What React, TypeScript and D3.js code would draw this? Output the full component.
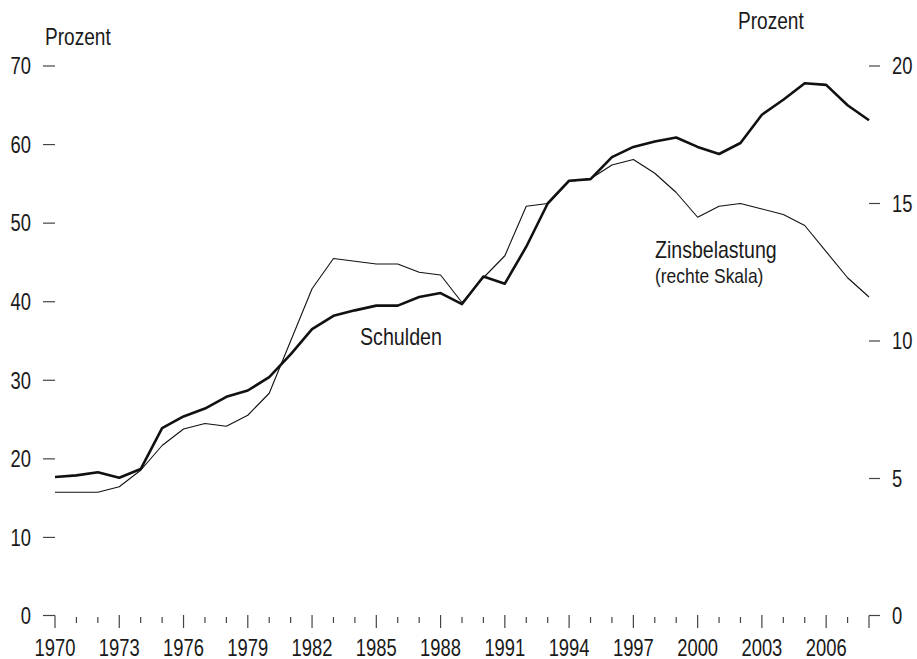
import React, { useEffect, useRef } from "react";
import * as d3 from "d3";

// years 1970..2008
const years = d3.range(1970, 2009);

// Schulden in Prozent (linke Skala)
const schulden = [
  17.7, 17.9, 18.3, 17.6, 18.7, 23.9, 25.4, 26.4, 27.9, 28.7,
  30.4, 33.3, 36.5, 38.2, 38.9, 39.5, 39.5, 40.6, 41.1, 39.7,
  43.2, 42.3, 47.0, 52.5, 55.4, 55.6, 58.4, 59.7, 60.4, 60.9,
  59.7, 58.8, 60.2, 63.8, 65.7, 67.8, 67.6, 65.0, 63.1,
];

// Zinsbelastung in Prozent (rechte Skala)
const zins = [
  4.5, 4.5, 4.5, 4.7, 5.3, 6.2, 6.8, 7.0, 6.9, 7.3,
  8.1, 10.0, 11.9, 13.0, 12.9, 12.8, 12.8, 12.5, 12.4, 11.4,
  12.3, 13.1, 14.9, 15.0, 15.8, 15.9, 16.4, 16.6, 16.1, 15.4,
  14.5, 14.9, 15.0, 14.8, 14.6, 14.2, 13.25, 12.3, 11.6,
];

const leftTicks = [0, 10, 20, 30, 40, 50, 60, 70];
const rightTicks = [0, 5, 10, 15, 20];
const labelYears = d3.range(1970, 2007, 3);

const W = 917;
const H = 659;
const FONT = "'Liberation Sans', Arial, sans-serif";

export default function App() {
  const ref = useRef<SVGSVGElement>(null);

  useEffect(() => {
    const svg = d3.select(ref.current);
    svg.selectAll("*").remove();

    const x = d3.scaleLinear().domain([1970, 2008]).range([55, 869]);
    const yL = d3.scaleLinear().domain([0, 70]).range([616, 66]);
    const yR = d3.scaleLinear().domain([0, 20]).range([616, 66]);
    const base = yL(0) - 0.5;

    const g = svg.append("g").attr("font-family", FONT).attr("fill", "#1a1a1a");

    // condensed-looking text: squeeze horizontally around the anchor point
    const label = (
      tx: number, ty: number, s: string | number,
      opts: { size?: number; anchor?: string; sx?: number; dy?: string } = {}
    ) =>
      g.append("text")
        .attr("transform", `translate(${tx},${ty}) scale(${opts.sx ?? 0.8},1)`)
        .attr("dy", opts.dy ?? null)
        .attr("text-anchor", opts.anchor ?? "start")
        .attr("font-size", opts.size ?? 23)
        .text(s);

    // left axis ticks + labels
    leftTicks.forEach((t) => {
      g.append("line")
        .attr("x1", 43).attr("x2", x(1970))
        .attr("y1", t === 0 ? base : yL(t)).attr("y2", t === 0 ? base : yL(t))
        .attr("stroke", "#444").attr("stroke-width", 1.2);
      label(31, yL(t), t, { anchor: "end", dy: "0.36em" });
    });

    // right axis ticks + labels
    rightTicks.forEach((t) => {
      g.append("line")
        .attr("x1", x(2008)).attr("x2", 880)
        .attr("y1", t === 0 ? base : yR(t)).attr("y2", t === 0 ? base : yR(t))
        .attr("stroke", "#444").attr("stroke-width", 1.2);
      label(892, yR(t), t, { dy: "0.36em" });
    });

    // x ticks: corner ticks at both ends, major every 3 years
    years.forEach((yr) => {
      const major = (yr - 1970) % 3 === 0 || yr === 2008;
      const edge = yr === 1970 || yr === 2008;
      g.append("line")
        .attr("x1", x(yr)).attr("x2", x(yr))
        .attr("y1", edge ? base : major ? 615 : 617).attr("y2", major ? 628 : 623)
        .attr("stroke", "#444").attr("stroke-width", 1.2);
    });
    labelYears.forEach((yr) => {
      label(x(yr), 656, yr, { anchor: "middle" });
    });

    // axis titles
    label(45, 45, "Prozent", { sx: 0.83 });
    label(738, 29, "Prozent", { sx: 0.83 });

    // lines
    const lineL = d3.line<number>().x((_, i) => x(years[i])).y((d) => yL(d));
    const lineR = d3.line<number>().x((_, i) => x(years[i])).y((d) => yR(d));

    svg.append("path")
      .attr("d", lineR(zins) as string)
      .attr("fill", "none").attr("stroke", "#111").attr("stroke-width", 1.1)
      .attr("stroke-linejoin", "round");
    svg.append("path")
      .attr("d", lineL(schulden) as string)
      .attr("fill", "none").attr("stroke", "#111").attr("stroke-width", 2.6)
      .attr("stroke-linejoin", "round");

    // series labels
    label(360, 345, "Schulden", { sx: 0.855 });
    label(655, 258, "Zinsbelastung", { sx: 0.85 });
    label(655, 283, "(rechte Skala)", { size: 20.5, sx: 0.85 });
  }, []);

  return (
    <svg
      ref={ref}
      width={W}
      height={H}
      style={{ position: "absolute", left: 0, top: 0, background: "#fff" }}
    />
  );
}
